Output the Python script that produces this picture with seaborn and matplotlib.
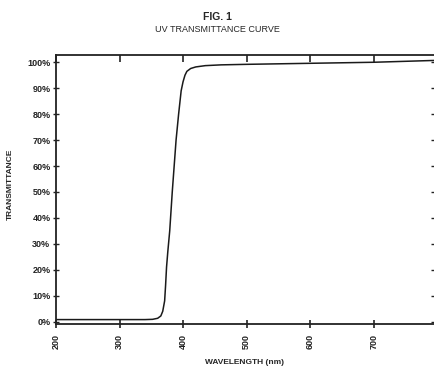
import matplotlib
matplotlib.use("Agg")
import matplotlib.pyplot as plt
import matplotlib.lines as mlines
import seaborn as sns
import pandas as pd
from matplotlib.ticker import FuncFormatter

wavelength = [200, 300, 340, 352, 360, 365, 368, 371, 372.5, 374, 376, 379, 383, 389,
              393, 397, 400, 403, 406, 412, 420, 435, 460, 500, 600, 700, 795]
transmittance = [0.8, 0.8, 0.8, 0.9, 1.3, 2.2, 4, 8, 14, 21, 27, 35, 50, 70,
                 80, 89, 92.5, 95, 96.5, 97.6, 98.2, 98.7, 99.0, 99.2, 99.6, 100.0, 100.7]
x_ticks = [200, 300, 400, 500, 600, 700]
y_ticks = [0, 10, 20, 30, 40, 50, 60, 70, 80, 90, 100]

df = pd.DataFrame({"wl": wavelength, "t": transmittance})

sns.set_style("ticks")
plt.rcParams['font.family'] = ['Liberation Sans', 'DejaVu Sans']

fig = plt.figure(figsize=(4.35, 3.67), dpi=100)
ax = fig.add_axes([56/435, 1-324/367, (434-56)/435, (324-55)/367])
sns.lineplot(data=df, x="wl", y="t", ax=ax, color="#1a1a1a", linewidth=1.1)

ax.set_xlim(200, 795)
ax.set_ylim(-0.9, 102.8)
ax.set_xticks(x_ticks)
ax.set_yticks(y_ticks)
ax.yaxis.set_major_formatter(FuncFormatter(lambda v, p: f"{int(v)}%"))

for s in ["left", "bottom", "top"]:
    ax.spines[s].set_linewidth(1.3)
    ax.spines[s].set_color("#222222")
ax.spines["right"].set_visible(False)

ax.tick_params(axis="x", which="both", bottom=True, top=True, direction="inout",
               length=6, width=1.2, colors="#222222", labelsize=6.5, pad=4)
ax.tick_params(axis="y", left=True, right=True, direction="inout",
               length=4, width=1.0, colors="#222222", labelsize=6.5, pad=2)
for t in ax.xaxis.get_major_ticks():
    t.tick2line.set_marker(mlines.TICKDOWN)
    t.tick2line.set_markersize(5)
for t in ax.yaxis.get_major_ticks():
    t.tick2line.set_marker(mlines.TICKLEFT)
    t.tick2line.set_markersize(2.5)
for lab in ax.get_xticklabels():
    lab.set_rotation(90)
    lab.set_fontweight("bold")
for lab in ax.get_yticklabels():
    lab.set_fontweight("bold")

ax.set_xlabel("WAVELENGTH (nm)", fontsize=6, fontweight="bold")
ax.set_ylabel("TRANSMITTANCE", fontsize=6, fontweight="bold")
ax.xaxis.set_label_coords(0.5, -0.13)
ax.yaxis.set_label_coords(-0.112, 0.52)

fig.text(0.5, 1-17/367, "FIG. 1", ha="center", va="center", fontsize=7.5,
         fontweight="bold")
fig.text(0.5, 1-30/367, "UV TRANSMITTANCE CURVE", ha="center", va="center",
         fontsize=6.5)

fig.savefig("out.png", dpi=100)
